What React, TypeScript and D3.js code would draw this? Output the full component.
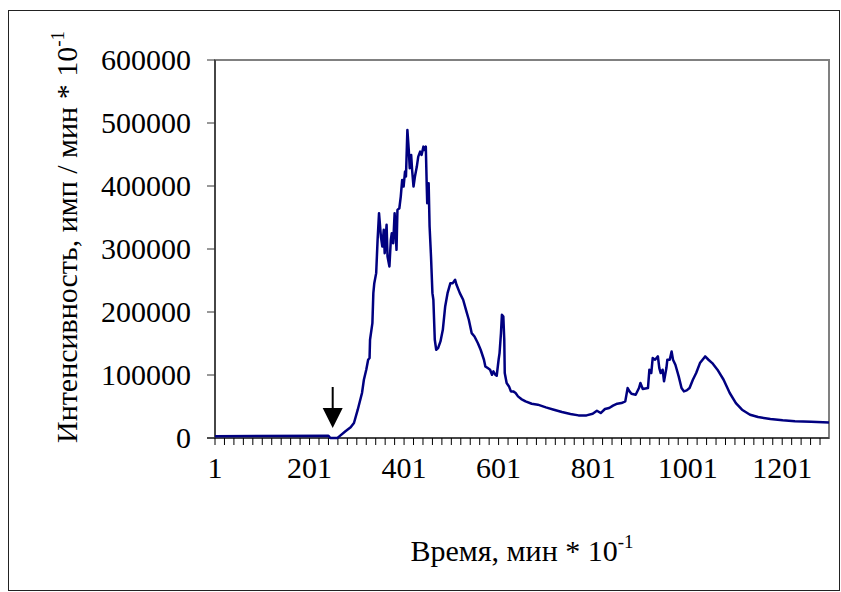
import React from 'react';
import * as d3 from 'd3';

// время (мин * 10^-1)
const time = [
  1, 241, 245, 260, 264, 277, 288, 295, 303, 312, 316, 321, 325, 328, 329, 334, 336, 338, 342, 345,
  348, 352, 355, 358, 360, 364, 366, 370, 373, 375, 378, 381, 385, 387, 391, 394, 397, 400, 403, 405,
  408, 411, 413, 416, 418, 421, 424, 428, 431, 435, 438, 442, 444, 447, 449, 450, 453, 455, 458, 461,
  463, 466, 469, 473, 478, 483, 488, 493, 499, 504, 509, 512, 519, 526, 532, 538, 544, 550, 557, 563,
  570, 573, 578, 583, 587, 590, 594, 597, 601, 603, 606, 608, 611, 613, 614, 618, 623, 627, 632, 637,
  642, 649, 658, 671, 684, 701, 718, 735, 753, 770, 787, 800, 809, 817, 826, 835, 843, 852, 861, 869,
  874, 878, 882, 891, 898, 901, 906, 917, 920, 924, 927, 932, 938, 941, 944, 948, 951, 956, 958, 963,
  967, 970, 975, 982, 988, 993, 999, 1005, 1012, 1019, 1027, 1038, 1045, 1053, 1064, 1077, 1090, 1103, 1116, 1133,
  1150, 1176, 1202, 1228, 1262, 1300,
];

// интенсивность (имп / мин * 10^-1)
const intensity = [
  2600, 3700, 0, 0, 2600, 10600, 16900, 23800, 44900, 71400, 92500, 108400, 124200, 126900, 155900, 182400, 229900, 245800, 261700, 314500,
  356800, 319800, 303900, 330400, 293400, 338300, 288100, 272200, 314500, 325100, 309200, 356800, 298700, 362100, 364700, 383200, 409700, 399100, 422900, 415000,
  489000, 457200, 428200, 449300, 425500, 399100, 415000, 430800, 446700, 454600, 449300, 462500, 457200, 462500, 399100, 372700, 404400, 335700, 288100, 229900,
  219400, 155900, 140100, 142700, 153300, 171800, 208800, 229900, 245800, 245800, 251100, 243200, 229900, 219400, 203500, 187700, 166500, 161200, 150700, 140100,
  124200, 113600, 111000, 108400, 100400, 105700, 100400, 98800, 124200, 134800, 166500, 195600, 192900, 155900, 103100, 87200, 81900, 74000, 74000, 71400,
  66100, 61800, 58100, 54400, 52900, 48600, 44900, 41200, 38100, 35900, 35900, 38600, 43300, 39600, 46000, 47600, 51300, 54400, 55500, 58100,
  79300, 74000, 70300, 68700, 79300, 87200, 77700, 79300, 108400, 103100, 126900, 124200, 129500, 111000, 103100, 108400, 89900, 111000, 124200, 124200,
  137400, 124200, 116300, 97800, 79300, 74000, 75600, 79300, 92500, 103100, 118900, 129500, 124200, 118900, 108400, 92500, 71400, 55500, 44900, 37000,
  33300, 30100, 28000, 26400, 25900, 24800,
];

const yTicks = [0, 100000, 200000, 300000, 400000, 500000, 600000];
const xLabels = [1, 201, 401, 601, 801, 1001, 1201];
const xMinorTicks = d3.range(1, 1300, 20);
const arrowTime = 250;

const W = 841;
const H = 592;
const plot = { left: 215, right: 829, top: 60, bottom: 438 };
const font = "'Liberation Serif', 'Times New Roman', serif";

export default function App() {
  const x = d3.scaleLinear().domain([1, 1300]).range([plot.left, plot.right]);
  const y = d3.scaleLinear().domain([0, 600000]).range([plot.bottom, plot.top]);

  const pts: [number, number][] = time.map((t, i) => [t, intensity[i]]);
  const line = d3
    .line<[number, number]>()
    .x(d => x(d[0]))
    .y(d => y(d[1]));

  const ax = x(arrowTime);

  return (
    <div style={{ position: 'absolute', left: 0, top: 0 }}>
      <svg width={W} height={H} style={{ display: 'block', background: '#fff' }}>
        {/* рамка диаграммы */}
        <rect x={8.5} y={10.5} width={831} height={580} fill="none" stroke="#222" strokeWidth={1} />

        {/* область построения */}
        <rect
          x={plot.left}
          y={plot.top}
          width={plot.right - plot.left}
          height={plot.bottom - plot.top}
          fill="#fff"
          stroke="#808080"
          strokeWidth={2}
        />

        {/* ось Y */}
        <line x1={plot.left} x2={plot.left} y1={plot.top} y2={plot.bottom} stroke="#333" strokeWidth={1.5} />
        {yTicks.map(v => (
          <g key={v}>
            <line x1={plot.left - 8} x2={plot.left} y1={y(v)} y2={y(v)} stroke="#333" strokeWidth={1} />
            <text
              x={191}
              y={y(v)}
              dy="0.34em"
              textAnchor="end"
              fontFamily={font}
              fontSize={30}
              fill="#000"
            >
              {v}
            </text>
          </g>
        ))}

        {/* ось X */}
        <line x1={plot.left - 8} x2={plot.right} y1={plot.bottom} y2={plot.bottom} stroke="#333" strokeWidth={1.5} />
        {xMinorTicks.map(t => (
          <line key={t} x1={x(t)} x2={x(t)} y1={plot.bottom} y2={plot.bottom + 7} stroke="#000" strokeWidth={1} />
        ))}
        {xLabels.map(t => (
          <text
            key={t}
            x={x(t)}
            y={478}
            textAnchor="middle"
            fontFamily={font}
            fontSize={30}
            fill="#000"
          >
            {t}
          </text>
        ))}

        {/* кривая */}
        <path d={line(pts) ?? ''} fill="none" stroke="#000080" strokeWidth={2.5} strokeLinejoin="round" />

        {/* стрелка */}
        <line x1={ax} x2={ax} y1={387} y2={410} stroke="#000" strokeWidth={2} />
        <path d={`M${ax - 10},408 L${ax + 10},408 L${ax},428 Z`} fill="#000" />

        {/* подписи осей */}
        <text x={522} y={561} textAnchor="middle" fontFamily={font} fontSize={30} fill="#000">
          Время, мин * 10<tspan fontSize={19} dy={-13}>-1</tspan>
        </text>
        <text
          transform="translate(77,237) rotate(-90)"
          textAnchor="middle"
          fontFamily={font}
          fontSize={30}
          fill="#000"
        >
          Интенсивность, имп / мин * 10<tspan fontSize={19} dy={-13}>-1</tspan>
        </text>
      </svg>
    </div>
  );
}
